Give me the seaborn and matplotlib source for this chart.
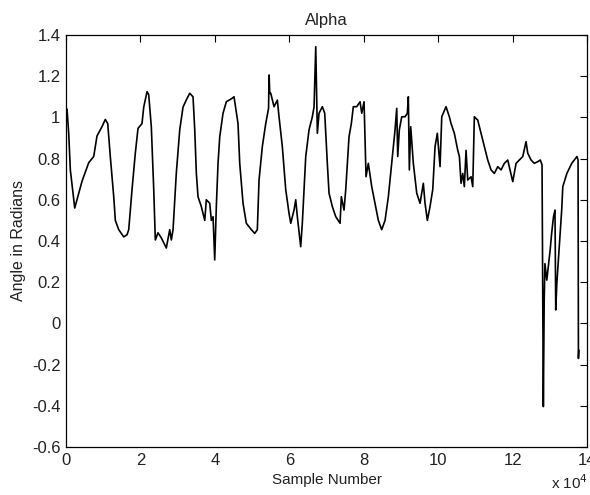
import numpy as np
import pandas as pd
import seaborn as sns
import matplotlib
matplotlib.use("Agg")
import matplotlib.pyplot as plt

# --- dados (x em unidades de 10^4 amostras) ---
sample_e4 = [
    0.000, 0.027, 0.073, 0.116, 0.234, 0.430, 0.610, 0.744, 0.833, 0.967,
    1.056, 1.121, 1.190, 1.282, 1.325, 1.416, 1.551, 1.639, 1.685, 1.774,
    1.862, 1.935, 2.042, 2.088, 2.177, 2.222, 2.292, 2.357, 2.400, 2.472,
    2.561, 2.695, 2.787, 2.830, 2.876, 2.964, 3.056, 3.144, 3.233, 3.324,
    3.413, 3.459, 3.502, 3.547, 3.636, 3.728, 3.770, 3.862, 3.905, 3.951,
    3.996, 4.039, 4.085, 4.131, 4.219, 4.308, 4.442, 4.515, 4.622, 4.668,
    4.757, 4.845, 4.980, 5.071, 5.141, 5.187, 5.275, 5.367, 5.443, 5.457,
    5.475, 5.502, 5.590, 5.679, 5.724, 5.813, 5.904, 5.993, 6.039, 6.127,
    6.173, 6.216, 6.307, 6.350, 6.442, 6.531, 6.619, 6.665, 6.711, 6.754,
    6.799, 6.888, 6.952, 7.022, 7.068, 7.157, 7.248, 7.364, 7.399, 7.471,
    7.517, 7.605, 7.667, 7.721, 7.812, 7.901, 7.947, 8.009, 8.036, 8.062,
    8.124, 8.215, 8.304, 8.393, 8.484, 8.573, 8.662, 8.753, 8.842, 8.887,
    8.914, 8.957, 9.022, 9.110, 9.172, 9.199, 9.226, 9.263, 9.333, 9.425,
    9.514, 9.602, 9.648, 9.710, 9.782, 9.855, 9.917, 9.978, 10.051, 10.097,
    10.212, 10.301, 10.347, 10.435, 10.527, 10.571, 10.615, 10.661, 10.704, 10.750,
    10.795, 10.884, 10.930, 10.973, 11.064, 11.153, 11.242, 11.333, 11.422, 11.510,
    11.602, 11.690, 11.779, 11.870, 11.932, 12.005, 12.094, 12.182, 12.274, 12.362,
    12.408, 12.497, 12.585, 12.677, 12.746, 12.792, 12.827, 12.850, 12.870, 12.920,
    13.010, 13.050, 13.100, 13.140, 13.160, 13.190, 13.280, 13.320, 13.350, 13.460,
    13.590, 13.730, 13.760, 13.770, 13.780,
]
angle = [
    1.036, 1.040, 0.920, 0.745, 0.560, 0.690, 0.780, 0.810, 0.910, 0.955,
    0.990, 0.970, 0.810, 0.615, 0.500, 0.455, 0.420, 0.430, 0.455, 0.650,
    0.826, 0.947, 0.970, 1.050, 1.125, 1.110, 0.955, 0.650, 0.405, 0.440,
    0.415, 0.366, 0.455, 0.405, 0.455, 0.730, 0.940, 1.050, 1.085, 1.117,
    1.100, 0.940, 0.730, 0.615, 0.567, 0.500, 0.600, 0.583, 0.500, 0.518,
    0.308, 0.567, 0.777, 0.906, 1.020, 1.076, 1.090, 1.100, 0.970, 0.777,
    0.583, 0.486, 0.455, 0.437, 0.455, 0.696, 0.858, 0.970, 1.044, 1.206,
    1.117, 1.117, 1.052, 1.084, 1.003, 0.858, 0.650, 0.534, 0.486, 0.550,
    0.600, 0.518, 0.372, 0.486, 0.810, 0.940, 1.003, 1.050, 1.343, 0.923,
    1.020, 1.052, 1.020, 0.777, 0.632, 0.567, 0.518, 0.486, 0.615, 0.550,
    0.650, 0.906, 0.970, 1.052, 1.052, 1.076, 1.020, 1.076, 0.890, 0.712,
    0.777, 0.664, 0.583, 0.500, 0.455, 0.500, 0.615, 0.777, 0.940, 1.044,
    0.810, 0.940, 1.003, 1.003, 1.020, 1.100, 0.745, 0.955, 0.777, 0.632,
    0.583, 0.680, 0.583, 0.500, 0.567, 0.650, 0.858, 0.923, 0.761, 1.003,
    1.052, 1.003, 0.970, 0.923, 0.840, 0.810, 0.680, 0.728, 0.664, 0.840,
    0.696, 0.712, 0.664, 1.003, 0.987, 0.923, 0.858, 0.793, 0.745, 0.728,
    0.761, 0.745, 0.777, 0.793, 0.745, 0.688, 0.777, 0.793, 0.810, 0.882,
    0.826, 0.793, 0.777, 0.785, 0.793, 0.769, -0.404, 0.110, 0.290, 0.210,
    0.356, 0.437, 0.518, 0.550, 0.065, 0.195, 0.437, 0.550, 0.664, 0.728,
    0.777, 0.810, 0.793, -0.170, -0.130,
]

df = pd.DataFrame({"amostra": np.array(sample_e4) * 1e4, "angulo": angle})

# --- estilo tipo MATLAB ---
sns.set_theme(style="white")
plt.rcParams["font.family"] = ["Liberation Sans", "DejaVu Sans"]
txt = "#222222"

fig = plt.figure(figsize=(5.9, 4.95), dpi=100)
ax = fig.add_axes([0.1119, 0.0970, 0.8830, 0.8323])

sns.lineplot(data=df, x="amostra", y="angulo", color="black", linewidth=1.2,
             estimator=None, sort=False, ax=ax)

ax.set_xlim(0, 140000)
ax.set_ylim(-0.6, 1.4)
ax.set_xticks(np.arange(0, 140001, 20000))
ax.set_xticklabels([str(v) for v in range(0, 15, 2)])
yt = np.round(np.arange(-0.6, 1.41, 0.2), 1)
ax.set_yticks(yt)
ax.set_yticklabels(["0" if v == 0 else ("1" if v == 1 else f"{v:g}") for v in yt])

ax.tick_params(direction="in", length=5, width=0.8, top=True, right=True,
               labelsize=12, colors="black", labelcolor=txt, pad=4)
for s in ax.spines.values():
    s.set_color("black")
    s.set_linewidth(0.9)

ax.set_xlabel("Sample Number", fontsize=11, color=txt, labelpad=4)
ax.set_ylabel("Angle in Radians", fontsize=11.5, color=txt, labelpad=4)
ax.set_title("Alpha", fontsize=12, color=txt, pad=7)
fig.text(0.934, 0.006, r"x 10$^4$", fontsize=11, color=txt, ha="left", va="bottom")

fig.savefig("out.png", dpi=100, facecolor="white")
